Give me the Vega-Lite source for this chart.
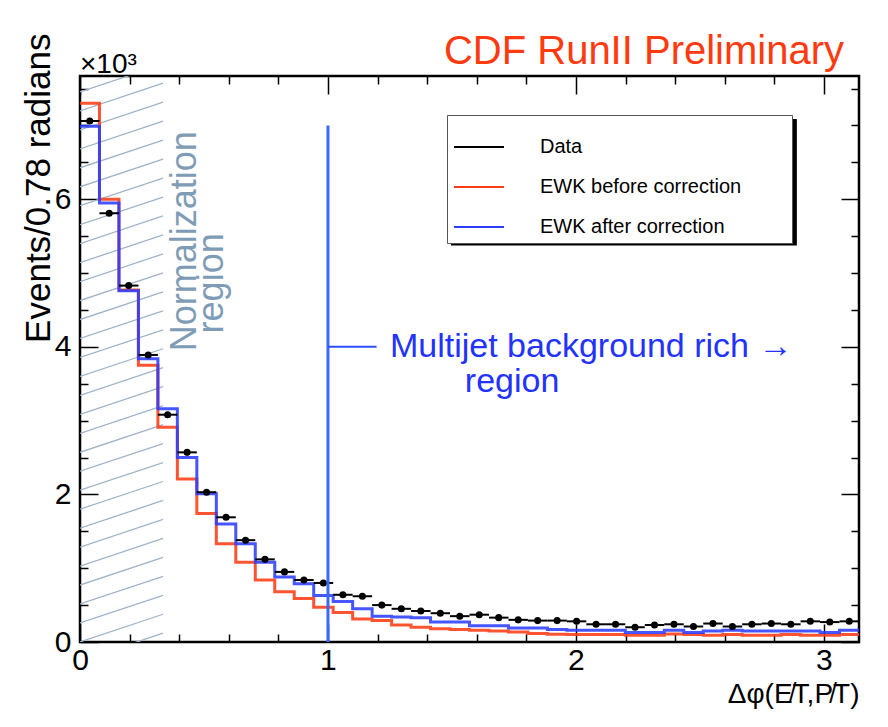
{
  "$schema": "https://vega.github.io/schema/vega-lite/v6.json",
  "width": 779,
  "height": 566,
  "autosize": {"type": "none"},
  "padding": {"left": 80, "top": 76, "right": 29, "bottom": 85},
  "background": "white",
  "title": {
    "text": "CDF RunII Preliminary",
    "anchor": "end",
    "fontSize": 40,
    "font": "Liberation Sans",
    "fontWeight": "normal",
    "color": "#ff3a0f",
    "baseline": "alphabetic",
    "offset": 14,
    "dx": -16,
    "dy": 85
  },
  "datasets": {
    "bins": [
      {"lo": 0, "hi": 0.0785, "mid": 0.0393, "Data": 7.06, "EWK before correction": 7.30, "EWK after correction": 6.99},
      {"lo": 0.0785, "hi": 0.1571, "mid": 0.1178, "Data": 5.81, "EWK before correction": 6.00, "EWK after correction": 5.95},
      {"lo": 0.1571, "hi": 0.2356, "mid": 0.1963, "Data": 4.83, "EWK before correction": 4.77, "EWK after correction": 4.76},
      {"lo": 0.2356, "hi": 0.3142, "mid": 0.2749, "Data": 3.89, "EWK before correction": 3.75, "EWK after correction": 3.84},
      {"lo": 0.3142, "hi": 0.3927, "mid": 0.3534, "Data": 3.08, "EWK before correction": 2.91, "EWK after correction": 3.16},
      {"lo": 0.3927, "hi": 0.4712, "mid": 0.4320, "Data": 2.57, "EWK before correction": 2.21, "EWK after correction": 2.50},
      {"lo": 0.4712, "hi": 0.5498, "mid": 0.5105, "Data": 2.03, "EWK before correction": 1.74, "EWK after correction": 2.01},
      {"lo": 0.5498, "hi": 0.6283, "mid": 0.5890, "Data": 1.69, "EWK before correction": 1.33, "EWK after correction": 1.60},
      {"lo": 0.6283, "hi": 0.7069, "mid": 0.6676, "Data": 1.38, "EWK before correction": 1.08, "EWK after correction": 1.33},
      {"lo": 0.7069, "hi": 0.7854, "mid": 0.7461, "Data": 1.12, "EWK before correction": 0.84, "EWK after correction": 1.08},
      {"lo": 0.7854, "hi": 0.8639, "mid": 0.8247, "Data": 0.95, "EWK before correction": 0.68, "EWK after correction": 0.88},
      {"lo": 0.8639, "hi": 0.9425, "mid": 0.9032, "Data": 0.84, "EWK before correction": 0.59, "EWK after correction": 0.79},
      {"lo": 0.9425, "hi": 1.0210, "mid": 0.9817, "Data": 0.80, "EWK before correction": 0.47, "EWK after correction": 0.63},
      {"lo": 1.0210, "hi": 1.0996, "mid": 1.0603, "Data": 0.64, "EWK before correction": 0.40, "EWK after correction": 0.55},
      {"lo": 1.0996, "hi": 1.1781, "mid": 1.1388, "Data": 0.62, "EWK before correction": 0.31, "EWK after correction": 0.45},
      {"lo": 1.1781, "hi": 1.2566, "mid": 1.2174, "Data": 0.50, "EWK before correction": 0.29, "EWK after correction": 0.35},
      {"lo": 1.2566, "hi": 1.3352, "mid": 1.2959, "Data": 0.45, "EWK before correction": 0.23, "EWK after correction": 0.34},
      {"lo": 1.3352, "hi": 1.4137, "mid": 1.3744, "Data": 0.42, "EWK before correction": 0.20, "EWK after correction": 0.33},
      {"lo": 1.4137, "hi": 1.4923, "mid": 1.4530, "Data": 0.39, "EWK before correction": 0.18, "EWK after correction": 0.27},
      {"lo": 1.4923, "hi": 1.5708, "mid": 1.5315, "Data": 0.35, "EWK before correction": 0.17, "EWK after correction": 0.27},
      {"lo": 1.5708, "hi": 1.6493, "mid": 1.6101, "Data": 0.37, "EWK before correction": 0.16, "EWK after correction": 0.22},
      {"lo": 1.6493, "hi": 1.7279, "mid": 1.6886, "Data": 0.33, "EWK before correction": 0.15, "EWK after correction": 0.22},
      {"lo": 1.7279, "hi": 1.8064, "mid": 1.7671, "Data": 0.30, "EWK before correction": 0.135, "EWK after correction": 0.19},
      {"lo": 1.8064, "hi": 1.8850, "mid": 1.8457, "Data": 0.29, "EWK before correction": 0.115, "EWK after correction": 0.19},
      {"lo": 1.8850, "hi": 1.9635, "mid": 1.9242, "Data": 0.29, "EWK before correction": 0.105, "EWK after correction": 0.17},
      {"lo": 1.9635, "hi": 2.0420, "mid": 2.0028, "Data": 0.28, "EWK before correction": 0.10, "EWK after correction": 0.16},
      {"lo": 2.0420, "hi": 2.1206, "mid": 2.0813, "Data": 0.24, "EWK before correction": 0.10, "EWK after correction": 0.16},
      {"lo": 2.1206, "hi": 2.1991, "mid": 2.1598, "Data": 0.24, "EWK before correction": 0.10, "EWK after correction": 0.16},
      {"lo": 2.1991, "hi": 2.2777, "mid": 2.2384, "Data": 0.20, "EWK before correction": 0.09, "EWK after correction": 0.13},
      {"lo": 2.2777, "hi": 2.3562, "mid": 2.3169, "Data": 0.23, "EWK before correction": 0.09, "EWK after correction": 0.13},
      {"lo": 2.3562, "hi": 2.4347, "mid": 2.3955, "Data": 0.24, "EWK before correction": 0.11, "EWK after correction": 0.16},
      {"lo": 2.4347, "hi": 2.5133, "mid": 2.4740, "Data": 0.21, "EWK before correction": 0.10, "EWK after correction": 0.13},
      {"lo": 2.5133, "hi": 2.5918, "mid": 2.5525, "Data": 0.25, "EWK before correction": 0.09, "EWK after correction": 0.15},
      {"lo": 2.5918, "hi": 2.6704, "mid": 2.6311, "Data": 0.21, "EWK before correction": 0.10, "EWK after correction": 0.16},
      {"lo": 2.6704, "hi": 2.7489, "mid": 2.7096, "Data": 0.24, "EWK before correction": 0.09, "EWK after correction": 0.15},
      {"lo": 2.7489, "hi": 2.8274, "mid": 2.7882, "Data": 0.25, "EWK before correction": 0.09, "EWK after correction": 0.15},
      {"lo": 2.8274, "hi": 2.9060, "mid": 2.8667, "Data": 0.24, "EWK before correction": 0.10, "EWK after correction": 0.15},
      {"lo": 2.9060, "hi": 2.9845, "mid": 2.9452, "Data": 0.28, "EWK before correction": 0.09, "EWK after correction": 0.15},
      {"lo": 2.9845, "hi": 3.0631, "mid": 3.0238, "Data": 0.27, "EWK before correction": 0.09, "EWK after correction": 0.13},
      {"lo": 3.0631, "hi": 3.1416, "mid": 3.1023, "Data": 0.28, "EWK before correction": 0.10, "EWK after correction": 0.16},
      {"lo": 3.1416, "hi": null, "mid": null, "Data": null, "EWK before correction": 0.10, "EWK after correction": 0.16}
    ],
    "hatch": [
      {"start": 7.454, "end": 7.829}, {"start": 7.197, "end": 7.572}, {"start": 6.94, "end": 7.315},
      {"start": 6.683, "end": 7.058}, {"start": 6.426, "end": 6.801}, {"start": 6.169, "end": 6.544},
      {"start": 5.912, "end": 6.287}, {"start": 5.655, "end": 6.03}, {"start": 5.398, "end": 5.773},
      {"start": 5.141, "end": 5.516}, {"start": 4.884, "end": 5.259}, {"start": 4.627, "end": 5.002},
      {"start": 4.37, "end": 4.745}, {"start": 4.113, "end": 4.488}, {"start": 3.856, "end": 4.231},
      {"start": 3.599, "end": 3.974}, {"start": 3.342, "end": 3.717}, {"start": 3.085, "end": 3.46},
      {"start": 2.828, "end": 3.203}, {"start": 2.571, "end": 2.946}, {"start": 2.314, "end": 2.689},
      {"start": 2.057, "end": 2.432}, {"start": 1.8, "end": 2.175}, {"start": 1.543, "end": 1.918},
      {"start": 1.286, "end": 1.661}, {"start": 1.029, "end": 1.404}, {"start": 0.772, "end": 1.147},
      {"start": 0.515, "end": 0.89}, {"start": 0.258, "end": 0.633}, {"start": 0.001, "end": 0.376},
      {"start": -0.256, "end": 0.119}
    ]
  },
  "layer": [
    {
      "data": {"name": "hatch"},
      "mark": {"type": "rule", "clip": true, "color": "#9fb4c8", "strokeWidth": 1.3},
      "encoding": {
        "x": {
          "datum": 0, "type": "quantitative",
          "scale": {"domain": [0, 3.1416], "nice": false, "zero": false},
          "axis": {
            "orient": "top", "title": null, "labels": false,
            "values": [0, 0.2, 0.4, 0.6, 0.8, 1, 1.2, 1.4, 1.6, 1.8, 2, 2.2, 2.4, 2.6, 2.8, 3],
            "tickSize": {"condition": {"test": "abs(datum.value - round(datum.value)) < 0.001", "value": -18}, "value": -8}
          }
        },
        "x2": {"datum": 0.335},
        "y": {
          "field": "start", "type": "quantitative",
          "scale": {"domain": [0, 7.67], "nice": false, "zero": false},
          "axis": {
            "orient": "right", "title": null, "labels": false,
            "values": [0, 0.5, 1, 1.5, 2, 2.5, 3, 3.5, 4, 4.5, 5, 5.5, 6, 6.5, 7, 7.5],
            "tickSize": {"condition": {"test": "datum.value % 2 === 0", "value": -18}, "value": -8}
          }
        },
        "y2": {"field": "end"}
      }
    },
    {
      "data": {"values": [{}]},
      "mark": {"type": "rect", "color": "black"},
      "encoding": {
        "x": {"datum": 1.496, "type": "quantitative", "axis": null},
        "x2": {"datum": 2.891},
        "y": {"datum": 7.087, "type": "quantitative", "axis": null},
        "y2": {"datum": 5.373}
      }
    },
    {
      "data": {"name": "bins"},
      "transform": [{"fold": ["EWK before correction", "EWK after correction"], "as": ["series", "value"]}],
      "mark": {"type": "line", "interpolate": "step-after", "strokeWidth": 3, "clip": true, "opacity": 0.88},
      "encoding": {
        "x": {
          "field": "lo", "type": "quantitative",
          "scale": {"domain": [0, 3.1416], "nice": false, "zero": false},
          "axis": {
            "orient": "bottom",
            "values": [0, 0.2, 0.4, 0.6, 0.8, 1, 1.2, 1.4, 1.6, 1.8, 2, 2.2, 2.4, 2.6, 2.8, 3],
            "labelExpr": "abs(datum.value - round(datum.value)) < 0.001 ? format(datum.value, 'd') : ''",
            "tickSize": {"condition": {"test": "abs(datum.value - round(datum.value)) < 0.001", "value": -18}, "value": -8},
            "labelFontSize": 30,
            "labelPadding": 21,
            "labelFlush": false,
            "labelOverlap": false,
            "title": "Δφ(E̸T,P̸T)",
            "titleAnchor": "end",
            "titleFontSize": 28,
            "titleBaseline": "alphabetic",
            "titleY": 60
          }
        },
        "y": {
          "field": "value", "type": "quantitative",
          "scale": {"domain": [0, 7.67], "nice": false, "zero": false},
          "axis": {
            "orient": "left",
            "values": [0, 0.5, 1, 1.5, 2, 2.5, 3, 3.5, 4, 4.5, 5, 5.5, 6, 6.5, 7, 7.5],
            "labelExpr": "datum.value % 2 === 0 ? format(datum.value, 'd') : ''",
            "tickSize": {"condition": {"test": "datum.value % 2 === 0", "value": -18}, "value": -8},
            "labelFontSize": 30,
            "labelPadding": 27,
            "labelFlush": false,
            "labelOverlap": false,
            "title": "Events/0.78 radians",
            "titleAnchor": "end",
            "titleFontSize": 35,
            "titleX": -24,
            "titleY": -43
          }
        },
        "color": {
          "field": "series", "type": "nominal",
          "scale": {
            "domain": ["Data", "EWK before correction", "EWK after correction"],
            "range": ["black", "#ff3c14", "#2b3dff"]
          },
          "legend": {
            "orient": "none",
            "legendX": 367,
            "legendY": 39,
            "title": null,
            "direction": "vertical",
            "fillColor": "white",
            "strokeColor": "#555555",
            "padding": 6,
            "cornerRadius": 0,
            "symbolSize": 2500,
            "symbolStrokeWidth": 2,
            "symbolOpacity": 1,
            "labelFont": "Liberation Sans",
            "labelFontSize": 20,
            "labelColor": "black",
            "labelOffset": 35,
            "labelLimit": 0,
            "rowPadding": 4,
            "labelExpr": "datum.label + '\u00a0\u00a0\u00a0\u00a0\u00a0\u00a0\u00a0\u00a0\u200b'"
          }
        }
      }
    },
    {
      "data": {"name": "bins"},
      "mark": {"type": "rule", "color": "black", "strokeWidth": 2},
      "encoding": {
        "x": {"field": "lo", "type": "quantitative", "axis": null},
        "x2": {"field": "hi"},
        "y": {"field": "Data", "type": "quantitative", "axis": null}
      }
    },
    {
      "data": {"name": "bins"},
      "mark": {"type": "point", "filled": true, "size": 50, "opacity": 1, "color": "black"},
      "encoding": {
        "x": {"field": "mid", "type": "quantitative", "axis": null},
        "y": {"field": "Data", "type": "quantitative", "axis": null}
      }
    },
    {
      "data": {"values": [{}]},
      "mark": {"type": "rule", "color": "#3a68ff", "strokeWidth": 3},
      "encoding": {
        "x": {"datum": 1, "type": "quantitative", "axis": null},
        "y": {"datum": 0, "type": "quantitative", "axis": null},
        "y2": {"datum": 7.0}
      }
    },
    {
      "data": {"values": [{}]},
      "mark": {"type": "rule", "color": "#2b4dff", "strokeWidth": 2},
      "encoding": {
        "x": {"datum": 1, "type": "quantitative", "axis": null},
        "x2": {"datum": 1.196},
        "y": {"datum": 4.0, "type": "quantitative", "axis": null}
      }
    },
    {
      "data": {"values": [{}]},
      "mark": {"type": "text", "text": "Multijet background rich →", "font": "Liberation Sans", "fontSize": 34, "color": "#2233ff", "align": "left", "baseline": "middle"},
      "encoding": {
        "x": {"datum": 1.25, "type": "quantitative", "axis": null},
        "y": {"datum": 4.0, "type": "quantitative", "axis": null}
      }
    },
    {
      "data": {"values": [{}]},
      "mark": {"type": "text", "text": "region", "font": "Liberation Sans", "fontSize": 34, "color": "#2233ff", "align": "left", "baseline": "middle"},
      "encoding": {
        "x": {"datum": 1.552, "type": "quantitative", "axis": null},
        "y": {"datum": 3.52, "type": "quantitative", "axis": null}
      }
    },
    {
      "data": {"values": [{}]},
      "mark": {"type": "text", "text": "Normalization", "angle": 270, "font": "Liberation Sans", "fontSize": 36, "color": "#7f9cb6", "align": "center", "baseline": "middle"},
      "encoding": {
        "x": {"datum": 0.423, "type": "quantitative", "axis": null},
        "y": {"datum": 5.43, "type": "quantitative", "axis": null}
      }
    },
    {
      "data": {"values": [{}]},
      "mark": {"type": "text", "text": "region", "angle": 270, "font": "Liberation Sans", "fontSize": 36, "color": "#7f9cb6", "align": "center", "baseline": "middle"},
      "encoding": {
        "x": {"datum": 0.533, "type": "quantitative", "axis": null},
        "y": {"datum": 4.86, "type": "quantitative", "axis": null}
      }
    },
    {
      "data": {"values": [{}]},
      "mark": {"type": "text", "text": "×10³", "font": "Liberation Sans", "fontSize": 28, "color": "black", "align": "left", "baseline": "alphabetic", "dy": -3, "clip": false},
      "encoding": {
        "x": {"datum": 0, "type": "quantitative", "axis": null},
        "y": {"datum": 7.67, "type": "quantitative", "axis": null}
      }
    }
  ],
  "resolve": {"axis": {"x": "independent", "y": "independent"}},
  "config": {
    "font": "Liberation Sans",
    "view": {"stroke": "black", "strokeWidth": 2.5},
    "axis": {
      "grid": false,
      "domain": false,
      "tickColor": "black",
      "tickWidth": 1.5,
      "labelFont": "Liberation Sans",
      "titleFont": "Liberation Sans",
      "titleFontWeight": "normal",
      "labelColor": "black",
      "titleColor": "black"
    }
  }
}
